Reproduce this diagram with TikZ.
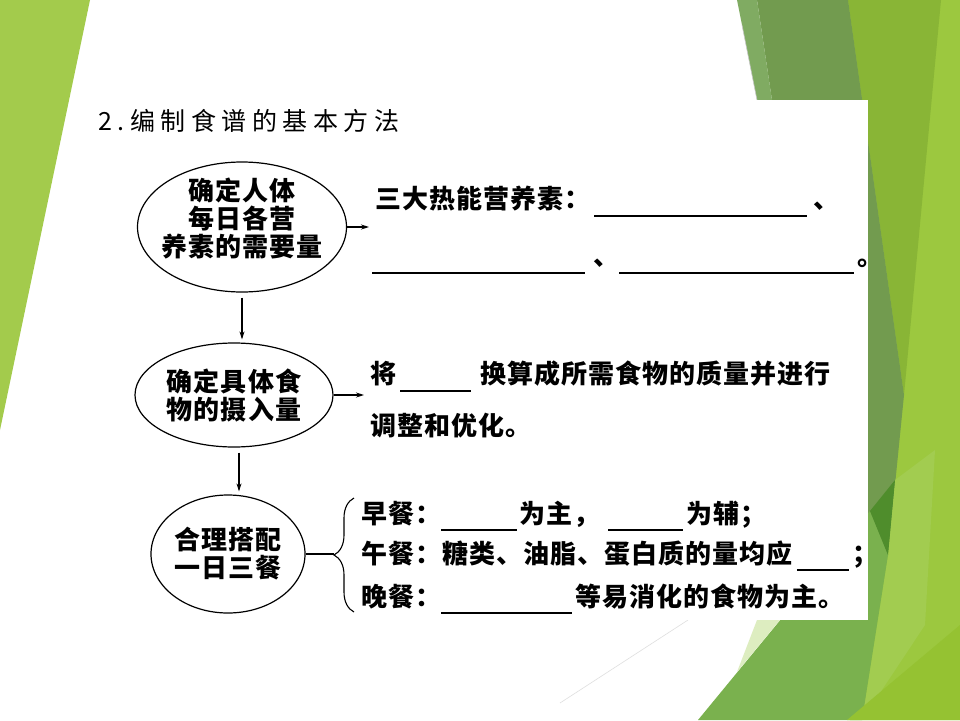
\documentclass[tikz,border=0pt]{standalone}
\usepackage{fontspec}
\usepackage{xcolor}
\usepackage{tikz}
\usetikzlibrary{arrows.meta, calc, shapes.geometric, decorations.pathreplacing}
\newfontfamily\hei[LetterSpace=4]{Noto Sans CJK SC}
\newfontfamily\song[LetterSpace=22]{Noto Sans CJK SC}
\newcommand{\tiankong}[2][9]{\rule[-#1pt]{#2pt}{1.8pt}}
\definecolor{leafL}{HTML}{A3CB4C}
\definecolor{stripL}{HTML}{80AB62}
\definecolor{bandD}{HTML}{729B4F}
\definecolor{limeA}{HTML}{89B536}
\definecolor{limeB}{HTML}{9CC83F}
\definecolor{limeC}{HTML}{95C232}
\definecolor{midT}{HTML}{7AB14E}
\definecolor{deepG}{HTML}{4F8D2C}
\definecolor{paleG}{HTML}{DDEDC0}
\definecolor{lightG}{HTML}{A2CC50}

\begin{document}
\begin{tikzpicture}[x=1pt, y=1pt,
      ell/.style={ellipse, draw, line width=1.2pt, inner sep=0pt},
      lbl/.style={font=\hei\bfseries\fontsize{26}{28}\selectfont, align=center, inner sep=0pt},
      txt/.style={font=\hei\bfseries\fontsize{26}{28}\selectfont, anchor=base west, inner sep=0pt},
      arr/.style={-{Stealth[length=8pt, width=5pt]}, line width=1.1pt},
      brace/.style={decorate, decoration={brace, amplitude=20pt}, line width=1.1pt}
    ]
      \useasboundingbox (0,0) rectangle (960,-720);
      \fill[white] (0,0) rectangle (960,-720);
      \fill[leafL] (0,0) -- (90,0) -- (0,-430) -- cycle;
      \fill[limeB] (848,0) -- (960,0) -- (960,-720) -- (850,-720) -- cycle;
      \fill[limeA] (848,0) -- (941,0) -- (904,-395) -- cycle;
      \fill[bandD] (757,0) -- (848,0) -- (904,-395) -- (888,-555) -- (840,-555) -- cycle;
      \fill[stripL] (737,0) -- (757,0) -- (817,-400) -- cycle;
      \fill[lightG] (895,-480) -- (935,-450) -- (925,-625) -- (862,-720) -- (888,-555) -- cycle;
      \fill[midT] (698,-720) -- (870,-511) -- (888,-555) -- (862,-720) -- cycle;
      \fill[deepG] (870,-511) -- (895,-480) -- (888,-555) -- cycle;
      \fill[paleG] (737,-672) -- (757,-620) -- (780,-620) -- cycle;
      \fill[limeC] (847,-720) -- (960,-625) -- (960,-720) -- cycle;
      \draw[gray!45, line width=0.6pt] (742,-25) -- (757,-100);
      \draw[gray!25, line width=0.6pt] (560,-703) -- (688,-620);
      \fill[white] (90,-100) rectangle (868,-620);

      \node[font=\song\fontsize{25}{27}\selectfont, anchor=base west, inner sep=0pt] (title) at (98,-130) {2.编制食谱的基本方法};

      \node[ell, minimum width=209pt, minimum height=130pt] (e1) at (242,-227) {};
      \node[lbl] (e1t) at ([yshift=9pt]e1.center) {确定人体\\每日各营\\养素的需要量};
      \node[ell, minimum width=198pt, minimum height=104pt] (e2) at (234,-395) {};
      \node[lbl] (e2t) at (e2.center) {确定具体食\\物的摄入量};
      \node[ell, minimum width=154pt, minimum height=118pt] (e3) at (228,-554) {};
      \node[lbl] (e3t) at (e3.center) {合理搭配\\一日三餐};

      \node[txt] (l11) at (375,-208) {三大热能营养素：\hspace{4pt}\tiankong{213}\hspace{6pt}、};
      \node[txt] (l12) at (372,-265) {\tiankong{213}\hspace{8pt}、\tiankong{235}\hspace{3pt}。};
      \node[txt] (l21) at (370,-383) {将\hspace{4pt}\tiankong{71}\hspace{9pt}换算成所需食物的质量并进行};
      \node[txt] (l22) at (370,-435) {调整和优化。};
      \node[txt] (l31) at (361,-523) {早餐：\tiankong[8]{76}\hspace{2pt}为主，\hspace{9pt}\tiankong[8]{75}\hspace{3pt}为辅；};
      \node[txt] (l32) at (361,-563) {午餐：糖类、油脂、蛋白质的量均应\hspace{4pt}\tiankong[8]{52}\hspace{4pt}；};
      \node[txt] (l33) at (361,-606) {晚餐：\tiankong[8]{131}\hspace{3pt}等易消化的食物为主。};

      \coordinate (bt) at (354,-498);
      \coordinate (bb) at (354,-612);
      \draw[arr] (e1.east) -- ([xshift=-6pt]e1.east -| l11.west);
      \draw[arr] (e2.east) -- ([xshift=-6pt]e2.east -| l21.west);
      \draw[arr] ([yshift=-5pt]e1.south) -- ([yshift=3pt]e1.south |- e2.north);
      \draw[arr] ([xshift=5pt, yshift=-5pt]e2.south) -- ([xshift=5pt, yshift=3pt]e2.south |- e3.north);
      \draw[brace] (bb) -- (bt);
      \draw[line width=1.1pt] (e3.east) -- ([xshift=-20pt]bt |- e3.east);
    \end{tikzpicture}
\end{document}
